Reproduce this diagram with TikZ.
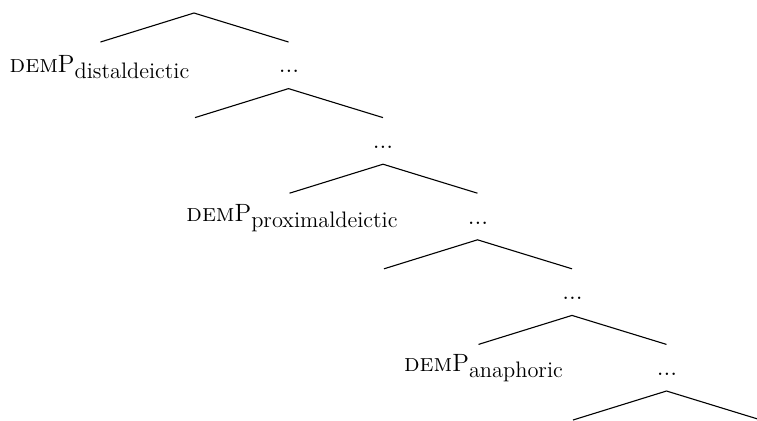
\documentclass[tikz,border=0pt]{standalone}
\usepackage{fontspec}
\newcommand\demlabel[1]{{\fontsize{12.5}{14}\selectfont\addfontfeature{LetterSpace=4}\textsc{dem}}{\fontsize{12.5}{14}\selectfont P}\raisebox{-3pt}{\fontsize{11.2}{12}\selectfont #1}}
\begin{document}
\begin{tikzpicture}[x=0.5pt,y=-0.5pt,
  edge/.style={line width=0.55pt},
  lab/.style={anchor=base,inner sep=0pt},
  dts/.style={anchor=base,inner sep=0pt,font=\fontsize{12.5}{14}\selectfont}]
\useasboundingbox (0,0) rectangle (757,420);
\clip (0,0) rectangle (757,420);
% apex and branch ends
\coordinate (a0) at (194,13);    \coordinate (l0) at (100.5,42);  \coordinate (r0) at (288.5,42);
\coordinate (a1) at (288.5,88.6);\coordinate (l1) at (195,117.6); \coordinate (r1) at (383,117.6);
\coordinate (a2) at (383,164.2); \coordinate (l2) at (289.5,193.2);\coordinate (r2) at (477.5,193.2);
\coordinate (a3) at (477.5,239.8);\coordinate (l3) at (384,268.8);\coordinate (r3) at (572,268.8);
\coordinate (a4) at (572,315.4); \coordinate (l4) at (478.5,344.4);\coordinate (r4) at (666.5,344.4);
\coordinate (a5) at (666.5,391); \coordinate (l5) at (573,420);   \coordinate (r5) at (761,420);
% labels
\node[lab] (p0) at (99.5,72) {\demlabel{distaldeictic}};
\node[lab] (p2) at (292,221) {\demlabel{proximaldeictic}};
\node[lab] (p4) at (483.5,371) {\demlabel{anaphoric}};
\node[dts] (d0) at (289,72.5) {...};
\node[dts] (d1) at (383,148.2) {...};
\node[dts] (d2) at (478,224) {...};
\node[dts] (d3) at (572.5,299.7) {...};
\node[dts] (d4) at (667,375.5) {...};
% edges
\foreach \i in {0,...,5}{
  \draw[edge] (l\i) -- (a\i) -- (r\i);
}
\end{tikzpicture}
\end{document}
